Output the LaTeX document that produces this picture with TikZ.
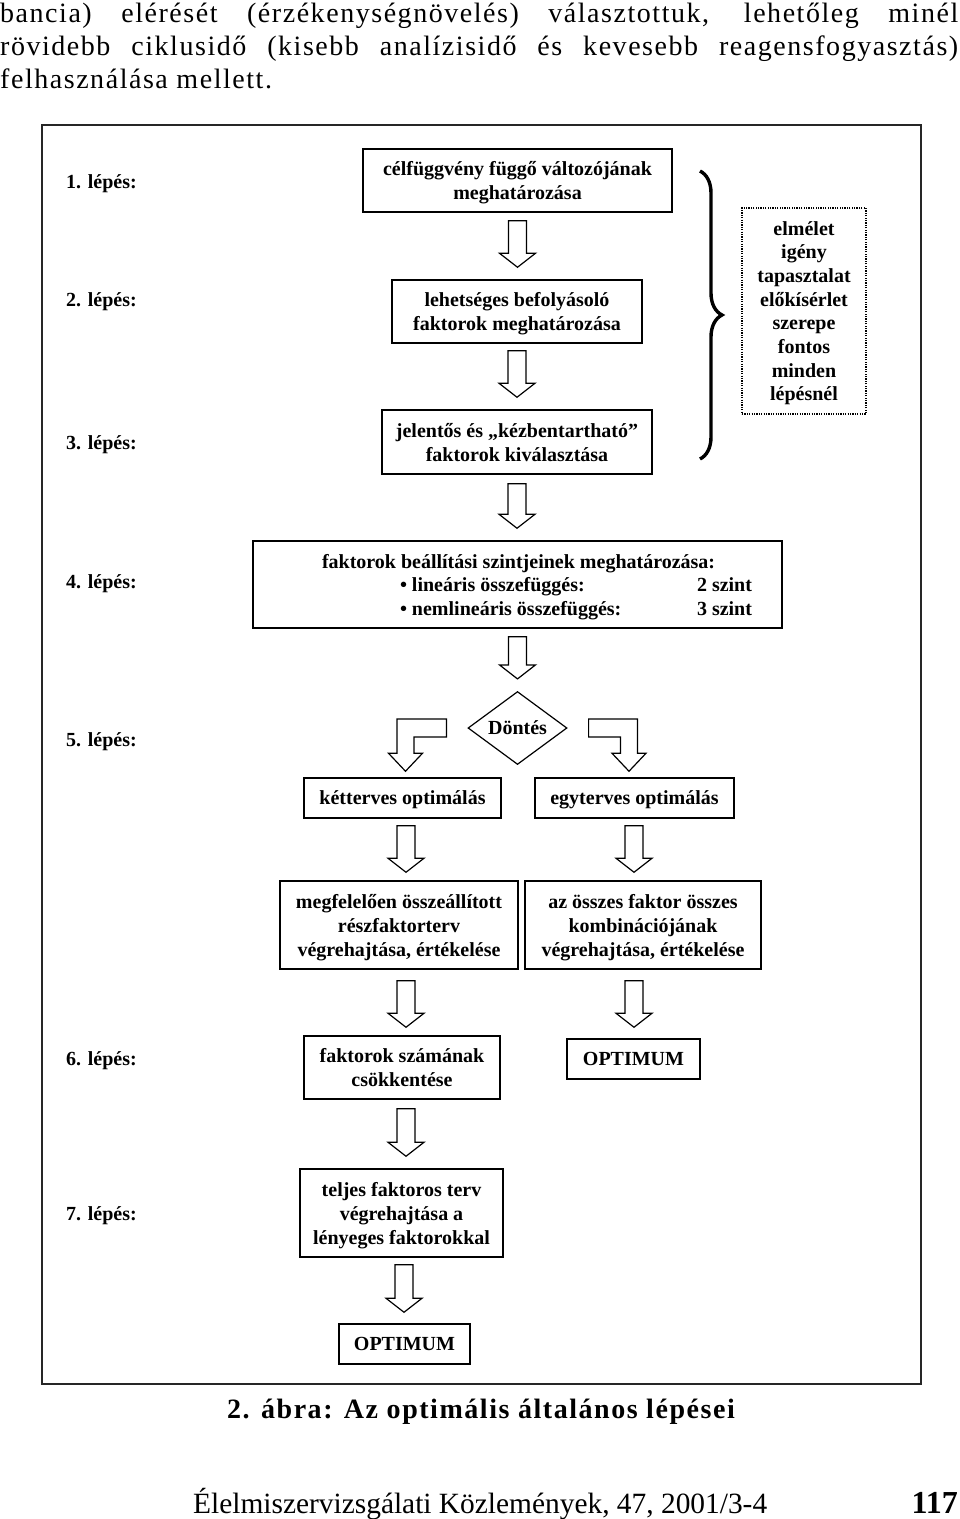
\documentclass[tikz,border=0pt]{standalone}
\usepackage{fontspec}
\setmainfont{Liberation Serif}
\newfontfamily\spacedserif[LetterSpace=5.5]{Liberation Serif}
\usepackage{tikz}
\usetikzlibrary{shapes.geometric,decorations.pathreplacing,calc}

\begin{document}
\begin{tikzpicture}[x=1pt, y=-1pt,
    stepbox/.style={draw, line width=1.5pt, rectangle, inner sep=0pt, text depth=0pt, align=center, font=\fontsize{20}{24}\selectfont\bfseries},
    steplabel/.style={anchor=base west, inner sep=0pt, font=\fontsize{20}{24}\selectfont\bfseries},
    notebox/.style={draw, line width=1.2pt, dash pattern=on 1.2pt off 1.2pt, inner sep=0pt, text depth=0pt, align=center, font=\fontsize{20}{23.7}\selectfont\bfseries},
    decision/.style={draw, diamond, line width=1.2pt, inner sep=0pt, minimum width=99pt, minimum height=66pt, font=\fontsize{20}{24}\selectfont\bfseries},
    frame/.style={draw, line width=1.8pt, black!85},
    bigbrace/.style={decorate, decoration={brace, amplitude=22pt}, line width=3.4pt},
    toptext/.style={anchor=base west, inner sep=0pt, font=\spacedserif\fontsize{28}{33}\selectfont},
    hollow/.style={line width=1.2pt, line join=miter, to path={let \p1=(\tikztostart), \p2=(\tikztotarget) in
        (\x1-9pt,\y1) -- (\x1+9pt,\y1) -- (\x1+9pt,\y2+14pt) -- (\x1+18pt,\y2+14pt) -- (\x1,\y2)
        -- (\x1-18pt,\y2+14pt) -- (\x1-9pt,\y2+14pt) -- cycle}},
    bentL/.style={line width=1.2pt, to path={let \p1=(\tikztostart), \p2=(\tikztotarget) in
        (\x1-21pt,\y1+9pt) -- (\x2-8.5pt,\y1+9pt) -- (\x2-8.5pt,\y2+24pt) -- (\x2-17pt,\y2+24pt) -- (\x2,\y2+6pt)
        -- (\x2+17pt,\y2+24pt) -- (\x2+8.5pt,\y2+24pt) -- (\x2+8.5pt,\y1-9pt) -- (\x1-21pt,\y1-9pt) -- cycle}},
    bentR/.style={line width=1.2pt, to path={let \p1=(\tikztostart), \p2=(\tikztotarget) in
        (\x1+21pt,\y1+9pt) -- (\x2+8.5pt,\y1+9pt) -- (\x2+8.5pt,\y2+24pt) -- (\x2+17pt,\y2+24pt) -- (\x2,\y2+6pt)
        -- (\x2-17pt,\y2+24pt) -- (\x2-8.5pt,\y2+24pt) -- (\x2-8.5pt,\y1-9pt) -- (\x1+21pt,\y1-9pt) -- cycle}}
]
\useasboundingbox (0,0) rectangle (960,1519);

% text above the figure
\node[toptext] (para1) at (0,22) {\makebox[958pt][s]{bancia) elérését (érzékenységnövelés) választottuk, lehetőleg minél}};
\node[toptext] (para2) at (0,55) {\makebox[958pt][s]{rövidebb ciklusidő (kisebb analízisidő és kevesebb reagensfogyasztás)}};
\node[toptext] (para3) at (0,88) {felhasználása mellett.};

\draw[frame] (42,125) rectangle (921,1384);

% step labels
\node[steplabel] (step1) at (66,188) {1. lépés:};
\node[steplabel] (step2) at (66,306) {2. lépés:};
\node[steplabel] (step3) at (66,449) {3. lépés:};
\node[steplabel] (step4) at (66,588) {4. lépés:};
\node[steplabel] (step5) at (66,746) {5. lépés:};
\node[steplabel] (step6) at (66,1065) {6. lépés:};
\node[steplabel] (step7) at (66,1220) {7. lépés:};

% main column
\node[stepbox, minimum width=309pt, minimum height=63pt] (cel) at (517.5,180.5) {célfüggvény függő változójának\\meghatározása};
\node[stepbox, minimum width=250pt, minimum height=63pt] (bef) at (517,311.5) {lehetséges befolyásoló\\faktorok meghatározása};
\node[stepbox, minimum width=270pt, minimum height=64pt] (kiv) at (517,442) {jelentős és „kézbentartható”\\faktorok kiválasztása};
\node[stepbox, minimum width=529pt, minimum height=87pt, font=\fontsize{20}{23.5}\selectfont\bfseries] (szint) at (517.5,584.5) {%
  \makebox[391pt][l]{faktorok beállítási szintjeinek meghatározása:}\\
  \makebox[391pt][l]{\hspace*{78pt}\makebox[297pt][l]{• lineáris összefüggés:}2 szint}\\
  \makebox[391pt][l]{\hspace*{78pt}\makebox[297pt][l]{• nemlineáris összefüggés:}3 szint}};
\node[decision] (dontes) at (517.5,728) {Döntés};

% brace and note
\coordinate (brtop) at (700,171);
\coordinate (brbot) at (700,459);
\draw[bigbrace] (brtop) -- (brbot);
\node[notebox, minimum width=124pt, minimum height=206pt] (szerep) at (804,311) {elmélet\\igény\\tapasztalat\\előkísérlet\\szerepe\\fontos\\minden\\lépésnél};

% two branches
\node[stepbox, minimum width=197pt, minimum height=40pt] (ket) at (402.5,798) {kétterves optimálás};
\node[stepbox, minimum width=199pt, minimum height=40pt] (egy) at (634.5,798) {egyterves optimálás};
\node[stepbox, minimum width=238pt, minimum height=88pt] (resz) at (399,925) {megfelelően összeállított\\részfaktorterv\\végrehajtása, értékelése};
\node[stepbox, minimum width=236pt, minimum height=88pt] (komb) at (643,925) {az összes faktor összes\\kombinációjának\\végrehajtása, értékelése};
\node[stepbox, minimum width=196pt, minimum height=63pt] (csokk) at (402,1067.5) {faktorok számának\\csökkentése};
\node[stepbox, minimum width=133pt, minimum height=40pt] (opt1) at (633.5,1059) {OPTIMUM};
\node[stepbox, minimum width=203pt, minimum height=88pt] (teljes) at (401.5,1213) {teljes faktoros terv\\végrehajtása a\\lényeges faktorokkal};
\node[stepbox, minimum width=131pt, minimum height=40pt] (opt2) at (404.5,1344) {OPTIMUM};

% hollow arrows
\draw[hollow] ([yshift=-8pt]cel.south) to ([yshift=12pt]bef.north);
\draw[hollow] ([yshift=-7pt]bef.south) to ([yshift=12pt]kiv.north);
\draw[hollow] ([yshift=-9pt]kiv.south) to ([yshift=12pt]szint.north);
\draw[hollow] ([yshift=-8pt]szint.south) to ([yshift=12pt]dontes.north);
\draw[bentL] (dontes.west) to ([xshift=3pt]ket.north);
\draw[bentR] (dontes.east) to ([xshift=-5.5pt]egy.north);
\draw[hollow] ([xshift=3.5pt,yshift=-7pt]ket.south) to ([yshift=8pt]resz.north);
\draw[hollow] ([xshift=-0.5pt,yshift=-7pt]egy.south) to ([yshift=8pt]komb.north);
\draw[hollow] ([xshift=7pt,yshift=-11pt]resz.south) to ([yshift=8pt]csokk.north);
\draw[hollow] ([xshift=-9pt,yshift=-11pt]komb.south) to ([yshift=11pt]opt1.north);
\draw[hollow] ([xshift=4pt,yshift=-9pt]csokk.south) to ([yshift=12pt]teljes.north);
\draw[hollow] ([xshift=2.5pt,yshift=-7pt]teljes.south) to ([yshift=11pt]opt2.north);

% caption and footer
\node[anchor=base, inner sep=0pt, font=\spacedserif\bfseries\fontsize{28}{33}\selectfont] (caption) at (481,1418) {2. ábra: Az optimális általános lépései};
\node[anchor=base west, inner sep=0pt, font=\fontsize{29.4}{34}\selectfont] (journal) at (193,1513) {Élelmiszervizsgálati Közlemények, 47, 2001/3-4};
\node[anchor=base east, inner sep=0pt, font=\fontsize{32}{36}\selectfont\bfseries] (pageno) at (958,1513) {117};
\end{tikzpicture}
\end{document}
